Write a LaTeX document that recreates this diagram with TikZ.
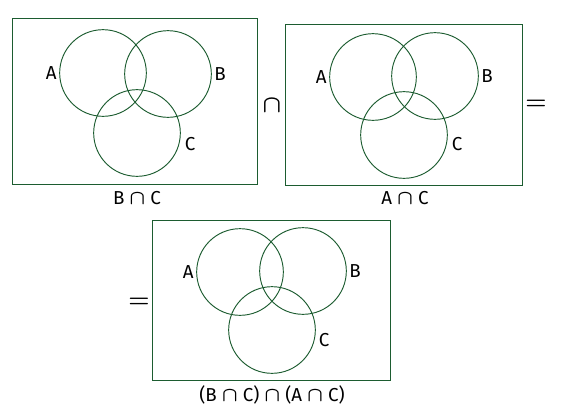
\documentclass[tikz,border=0pt]{standalone}
\usepackage{amsmath,amssymb}
\usepackage{fontspec}
\setmainfont{Fira Sans}
\usetikzlibrary{positioning}

\definecolor{venngreen}{RGB}{28,92,48}

\begin{document}
\begin{tikzpicture}[
    x=0.03cm, y=-0.03cm,
    frame/.style={draw=venngreen, line width=0.8pt},
    set/.style={circle, draw=venngreen, line width=0.8pt, minimum size=2.6cm, inner sep=0pt},
    lbl/.style={font=\fontsize{16}{20}\selectfont, inner sep=1pt},
    op/.style={font=\fontsize{20}{22}\selectfont, inner sep=1pt}
]
\useasboundingbox (0,0) rectangle (561,414);

% first panel: B cap C
\draw [frame] (12,18) rectangle (257,184);
\node (a1) [set] at (103,73) {};
\node (b1) [set] at (168,74) {};
\node (c1) [set] at (137,133) {};
\node (la1) [lbl, left=1pt of a1] {A};
\node (lb1) [lbl, right=1pt of b1] {B};
\node (lc1) [lbl] at (190,144) {C};
\node (cap1) [lbl] at (137,198) {B\;$\boldsymbol\cap$\;C};

\node (inter) [op] at (272,106) {$\boldsymbol\cap$};

% second panel: A cap C
\draw [frame] (285,24) rectangle (522,185);
\node (a2) [set] at (373,77) {};
\node (b2) [set] at (435,76) {};
\node (c2) [set] at (404,135) {};
\node (la2) [lbl, left=1pt of a2] {A};
\node (lb2) [lbl, right=1pt of b2] {B};
\node (lc2) [lbl] at (457,144) {C};
\node (cap2) [lbl] at (405,198) {A\;$\boldsymbol\cap$\;C};

\node (eq1) [op] at (536,105) {$\boldsymbol=$};

% result panel
\draw [frame] (152,220) rectangle (390,380);
\node (a3) [set] at (240,272) {};
\node (b3) [set] at (303,271) {};
\node (c3) [set] at (272,330) {};
\node (la3) [lbl, left=1pt of a3] {A};
\node (lb3) [lbl, right=1pt of b3] {B};
\node (lc3) [lbl] at (324,340) {C};
\node (cap3) [lbl] at (272,395) {(B\;$\boldsymbol\cap$\;C)\;$\boldsymbol\cap$\;(A\;$\boldsymbol\cap$\;C)};

\node (eq2) [op] at (139,303) {$\boldsymbol=$};

\end{tikzpicture}
\end{document}
